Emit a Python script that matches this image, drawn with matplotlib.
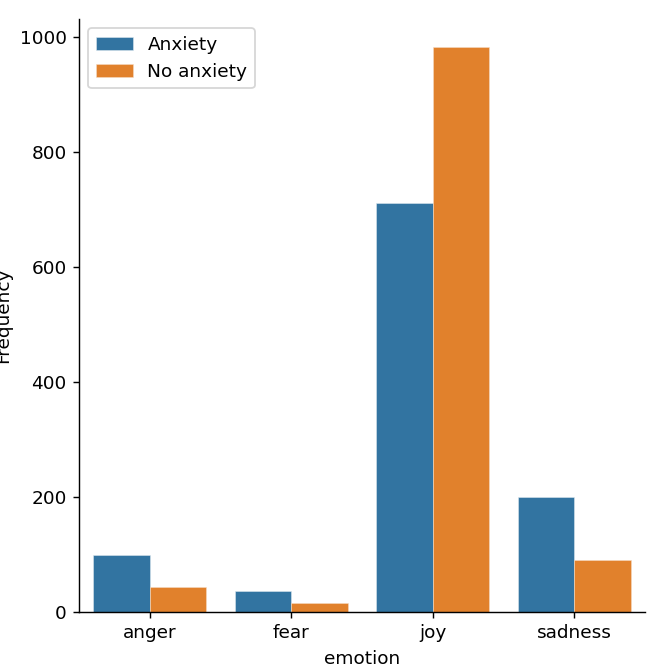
import numpy as np
import matplotlib
matplotlib.use("Agg")
import matplotlib.pyplot as plt

emotions = ["anger", "fear", "joy", "sadness"]
anxiety = [100, 37, 712, 201]
no_anxiety = [43, 16, 983, 91]
series_names = ["Anxiety", "No anxiety"]
colors = ["#3274a1", "#e1812c"]

DPI = 128
plt.rcParams["font.size"] = 10.4
fig = plt.figure(figsize=(664 / DPI, 664 / DPI), dpi=DPI)
ax = fig.add_axes([79 / 664, 1 - 612 / 664, (645 - 79) / 664, (612 - 19) / 664])

x = np.arange(len(emotions))
w = 0.4
ax.bar(x - w / 2, anxiety, width=w, color=colors[0], label=series_names[0],
       edgecolor="#dfe9f0", linewidth=0.3)
ax.bar(x + w / 2, no_anxiety, width=w, color=colors[1], label=series_names[1],
       edgecolor="#f6dcc4", linewidth=0.3)

ax.set_xticks(x)
ax.set_xticklabels(emotions)
ax.set_xlim(-0.5, 3.5)
ax.set_ylim(0, max(max(anxiety), max(no_anxiety)) * 1.05)
ax.set_yticks([0, 200, 400, 600, 800, 1000])
ax.set_xlabel("emotion")
ax.set_ylabel("Frequency")
ax.spines["top"].set_visible(False)
ax.spines["right"].set_visible(False)
ax.legend(loc="upper left")

fig.savefig("out.png", dpi=DPI)
